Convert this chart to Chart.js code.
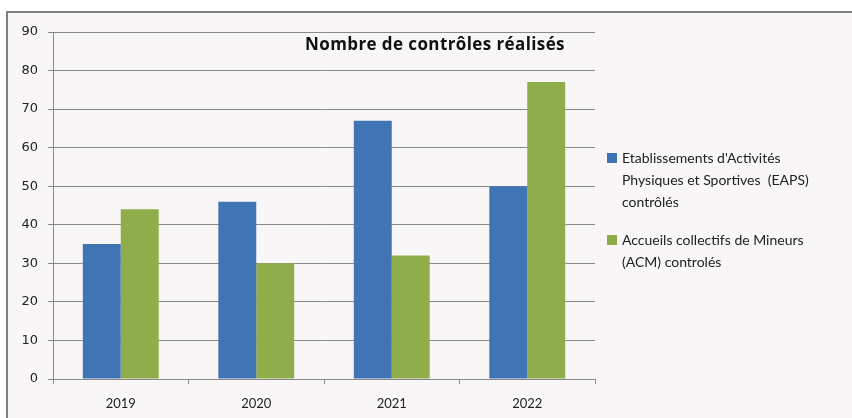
<!DOCTYPE html>
<html>
<head>
<meta charset="utf-8">
<script src="https://cdn.jsdelivr.net/npm/chart.js@4.4.0/dist/chart.umd.min.js"></script>
<style>
  body { margin: 0; background: #fff; }
  #wrap { position: relative; width: 852px; height: 418px; }
</style>
</head>
<body>
<div id="wrap"><canvas id="chart" width="852" height="418"></canvas></div>
<script>
// données
const annees = ['2019', '2020', '2021', '2022'];
const eaps = [35, 46, 67, 50];
const acm = [44, 30, 32, 77];
const legendeEaps = ["Etablissements d'Activités", "Physiques et Sportives  (EAPS)", "contrôlés"];
const legendeAcm = ["Accueils collectifs de Mineurs", "(ACM) controlés"];
const titre = 'Nombre de contrôles réalisés';

const BLEU = '#4174b5';
const VERT = '#8fad4a';

// fond + cadre façon Excel
const cadre = {
  id: 'cadre',
  beforeDraw(chart) {
    const ctx = chart.ctx;
    ctx.save();
    ctx.fillStyle = '#fff';
    ctx.fillRect(0, 0, chart.width, chart.height);
    ctx.fillStyle = '#f8f6f7';
    ctx.fillRect(7, 12, chart.width - 7, chart.height - 12);
    ctx.strokeStyle = '#7f7f7f';
    ctx.lineWidth = 2;
    ctx.beginPath();
    ctx.moveTo(7, chart.height);
    ctx.lineTo(7, 12);
    ctx.lineTo(chart.width, 12);
    ctx.stroke();
    ctx.restore();
  }
};

// titre dans la zone de tracé + légende à droite
const textes = {
  id: 'textes',
  afterDraw(chart) {
    const ctx = chart.ctx;
    ctx.save();
    ctx.fillStyle = '#111';
    ctx.font = 'bold 17px "Open Sans"';
    ctx.letterSpacing = '0.4px';
    ctx.textAlign = 'center';
    ctx.textBaseline = 'middle';
    ctx.fillText(titre, 435, 45);
    ctx.letterSpacing = '0px';

    ctx.font = '14px Lato';
    ctx.textAlign = 'left';
    const items = [
      { lignes: legendeEaps, couleur: BLEU, y: 158 },
      { lignes: legendeAcm, couleur: VERT, y: 240 }
    ];
    items.forEach(it => {
      ctx.fillStyle = it.couleur;
      ctx.fillRect(607, it.y - 5, 10, 10);
      ctx.fillStyle = '#222';
      it.lignes.forEach((l, i) => ctx.fillText(l, 622, it.y + i * 22));
    });
    ctx.restore();
  }
};

new Chart(document.getElementById('chart'), {
  type: 'bar',
  data: {
    labels: annees,
    datasets: [
      { label: legendeEaps.join(' '), data: eaps, backgroundColor: BLEU },
      { label: legendeAcm.join(' '), data: acm, backgroundColor: VERT }
    ]
  },
  options: {
    responsive: false,
    animation: false,
    layout: { padding: { left: 0, top: 32, right: 257, bottom: 0 } },
    plugins: { legend: { display: false }, tooltip: { enabled: false } },
    datasets: { bar: { categoryPercentage: 0.56, barPercentage: 1 } },
    scales: {
      y: {
        min: 0, max: 90,
        ticks: { stepSize: 10, color: '#222', font: { family: 'DejaVu Sans', size: 13 }, padding: 10 },
        grid: { color: '#8a8a8a', tickLength: 5, tickColor: '#8a8a8a' },
        border: { color: '#8a8a8a', width: 1 },
        afterFit(s) { s.width = 53; }
      },
      x: {
        ticks: { color: '#222', font: { family: 'Lato', size: 13 }, padding: 12 },
        grid: { display: true, drawOnChartArea: false, offset: true, tickLength: 5, tickColor: '#8a8a8a' },
        border: { color: '#8a8a8a', width: 1 },
        afterFit(s) { s.height = 39; }
      }
    }
  },
  plugins: [cadre, textes]
});
</script>
</body>
</html>
